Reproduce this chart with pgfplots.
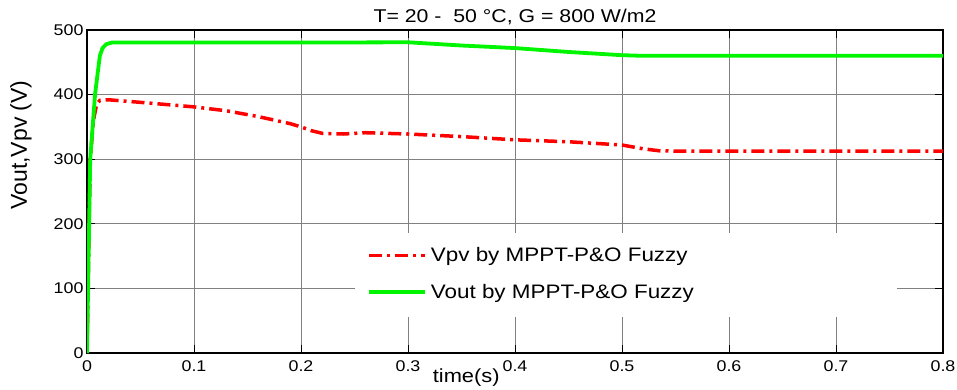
\documentclass[border=0pt]{standalone}
\usepackage{fontspec}
\setmainfont{Liberation Sans}[FakeStretch=1.15]
\newfontfamily\plainsans{Liberation Sans}
\usepackage{pgfplots}
\pgfplotsset{compat=1.18}
\begin{document}
\begin{tikzpicture}
\begin{axis}[
  at={(87pt,36pt)}, anchor=south west,
  scale only axis, width=856pt, height=323pt,
  xmin=0, xmax=0.8, ymin=0, ymax=500,
  xtick={0,0.1,...,0.8}, ytick={0,100,...,500},
  xticklabels={0,0.1,0.2,0.3,0.4,0.5,0.6,0.7,0.8},
  /pgf/number format/assume math mode=true,
  tick label style={font=\fontsize{15.5}{15.5}\selectfont},
  xticklabel style={yshift=-4pt},
  grid=major,
  major grid style={black!50, line width=0.7pt},
  major tick length=8pt,
  tick style={black, line width=0.9pt},
  axis line style={black, line width=1.2pt},
  title={T= 20 -\ \ 50 °C, G = 800 W/m2},
  title style={font=\fontsize{18.5}{18.5}\selectfont, at={(rel axis cs:0.5,1)}, anchor=base, yshift=2pt, inner sep=0pt},
  xlabel={time(s)},
  xlabel style={font=\fontsize{19}{19}\selectfont, at={(rel axis cs:0.443,0)}, anchor=base, yshift=-29pt, inner sep=0pt},
  ylabel={\plainsans Vout,Vpv (V)},
  ylabel style={font=\fontsize{23}{23}\selectfont, at={([xshift=-66pt]rel axis cs:0,0.644)}, anchor=center, inner sep=0pt},
  legend style={font=\fontsize{19.5}{19.5}\selectfont, at={(rel axis cs:0.327,0.2446)}, anchor=west,
    draw=none, fill=none, inner sep=0pt, row sep=21pt, column sep=4pt,
    cells={anchor=west}, nodes={inner sep=0pt}},
  legend image code/.code={\draw[#1] (0pt,0pt) -- (56pt,0pt);},
]
\fill[white] (rel axis cs:0.313,0.3715) rectangle (rel axis cs:0.946,0.1115);
\addplot[red, line width=3.5pt, dash pattern=on 13pt off 5pt on 3pt off 5pt] coordinates {
(0,0)(0.001,100)(0.003,300)(0.006,360)(0.009,385)(0.012,391)(0.02,392)(0.05,388)
(0.1,381)(0.13,375)(0.16,366)(0.19,355)(0.2,350)(0.21,344)(0.22,340)(0.24,339)
(0.26,341)(0.3,339)(0.35,335)(0.4,330)(0.45,327)(0.5,322)(0.51,319)(0.52,316)
(0.535,313)(0.55,312.5)(0.6,312.5)(0.7,312.5)(0.8,312.5)};
\addlegendentry{Vpv by MPPT-P\&O Fuzzy}
\addplot[color={rgb,255:red,0;green,245;blue,0}, line width=3.8pt] coordinates {
(0,0)(0.001,100)(0.003,300)(0.0075,400)(0.012,460)(0.0145,472)(0.018,478)(0.023,480.5)
(0.1,480.5)(0.2,480.5)(0.3,481)(0.31,480)(0.35,476)(0.4,472)(0.45,466)(0.5,461)(0.52,460)
(0.6,460)(0.7,460)(0.8,460)};
\addlegendentry{Vout by MPPT-P\&O Fuzzy}
\end{axis}
\pgfresetboundingbox
\useasboundingbox (0,0) rectangle (957pt,389pt);
\end{tikzpicture}
\end{document}
